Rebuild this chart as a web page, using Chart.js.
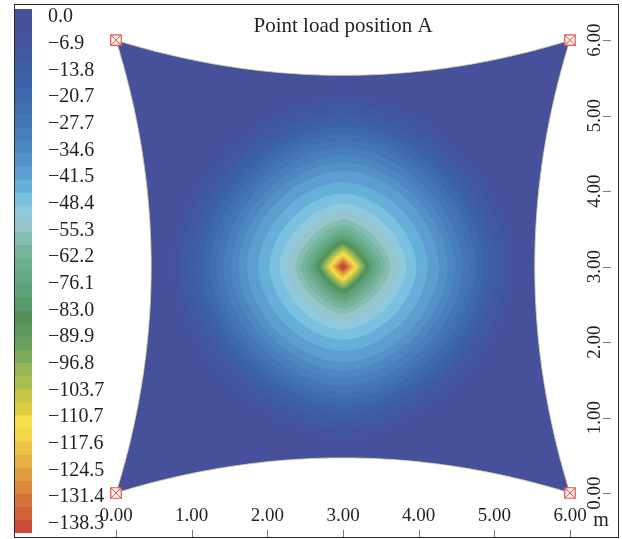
<!DOCTYPE html>
<html>
<head>
<meta charset="utf-8">
<title>Point load position A</title>
<script src="https://cdn.jsdelivr.net/npm/chart.js@4.4.1/dist/chart.umd.min.js"></script>
<style>
  html, body { margin: 0; padding: 0; background: #fff; }
  #wrap { position: relative; width: 622px; height: 539px; overflow: hidden; }
  #frame {
    position: absolute; left: 14px; top: 4px; width: 605px; height: 534px;
    box-sizing: border-box; border: 1.5px solid #2a2a2a; pointer-events: none;
  }
  canvas { position: absolute; left: 0; top: 0; }
</style>
</head>
<body>
<div id="wrap">
  <canvas id="plot" width="622" height="539"></canvas>
  <canvas id="legend" width="105" height="539"></canvas>
  <div id="frame"></div>
</div>
<script>
// deflection levels printed beside the colour bar (mm)
const levelValues = [0.0, -6.9, -13.8, -20.7, -27.7, -34.6, -41.5, -48.4, -55.3, -62.2,
  -76.1, -83.0, -89.9, -96.8, -103.7, -110.7, -117.6, -124.5, -131.4, -138.3];

// colour map, shallowest band first
const bandColors = [
  "#47509a", "#45519b", "#42549e", "#3f58a1", "#3d5da5", "#3c62a9", "#3e68ae", "#406fb2",
  "#4476b7", "#487ebc", "#4d87c2", "#5391c8", "#5b9ecf", "#66afd9", "#7ac0e0", "#90c8dc",
  "#96c6cc", "#86bdb2", "#78b59f", "#6cae8f", "#64a883", "#5ea278", "#599a6a", "#558f5a",
  "#5a985d", "#67a15d", "#7dac5c", "#95b558", "#acbe50", "#c5c64a", "#dccd44", "#f7df4c",
  "#f3d54a", "#eec347", "#e7b044", "#e09c40", "#da883c", "#d4743a", "#cf6139", "#cb4b3b",
];

// distance from the load to the outer edge of bands 1..39 (m)
const bandRadius = [2.41, 2.28, 2.16, 2.03, 1.94, 1.85, 1.76, 1.67, 1.58, 1.48,
  1.38, 1.27, 1.12, 0.97, 0.84, 0.73, 0.63, 0.56, 0.5, 0.45,
  0.41, 0.37, 0.34, 0.315, 0.295, 0.278, 0.26, 0.24, 0.225, 0.205,
  0.185, 0.165, 0.145, 0.125, 0.105, 0.09, 0.075, 0.06, 0.045];

// corner supports and cable edges of the membrane (m)
const supportX = [0, 6, 6, 0];
const supportY = [0, 0, 6, 6];
const edgeSag = 0.465;

// point load position A (m)
const loadX = 3.0;
const loadY = 3.0;

const axisTicks = [0, 1, 2, 3, 4, 5, 6];
const titleText = "Point load position A";
const unitText = "m";

const serif = "'Liberation Serif', 'DejaVu Serif', serif";
const ink = "#231f20";
const tickGrey = "#7a7a7a";

Chart.defaults.font.family = serif;
Chart.defaults.color = ink;

// contour of one band: a diamond near the load, rounding off further out
function bandOutline(r) {
  const p = 1 + 0.8 * Math.pow(Math.min(1, r), 0.8);
  const pts = [];
  for (let i = 0; i <= 160; i++) {
    const a = (i / 160) * Math.PI * 2;
    const c = Math.cos(a);
    const s = Math.sin(a);
    pts.push({
      x: loadX + r * Math.sign(c) * Math.pow(Math.abs(c), 2 / p),
      y: loadY + r * Math.sign(s) * Math.pow(Math.abs(s), 2 / p),
    });
  }
  return pts;
}

// membrane outline: cable edges sag inwards between the supports
function membraneOutline() {
  const cx = supportX.reduce((a, b) => a + b, 0) / supportX.length;
  const cy = supportY.reduce((a, b) => a + b, 0) / supportY.length;
  const pts = [];
  for (let e = 0; e < supportX.length; e++) {
    const ax = supportX[e], ay = supportY[e];
    const bx = supportX[(e + 1) % supportX.length], by = supportY[(e + 1) % supportY.length];
    const mx = (ax + bx) / 2, my = (ay + by) / 2;
    const len = Math.hypot(cx - mx, cy - my);
    const nx = (cx - mx) / len, ny = (cy - my) / len;
    for (let i = 0; i < 40; i++) {
      const t = i / 40;
      const d = 4 * edgeSag * t * (1 - t);
      pts.push({ x: ax + (bx - ax) * t + nx * d, y: ay + (by - ay) * t + ny * d });
    }
  }
  pts.push({ ...pts[0] });
  return pts;
}

const supports = supportX.map((x, i) => ({ x, y: supportY[i] }));

const datasets = [];

// supports: red box with a cross
datasets.push({
  data: supports,
  showLine: false,
  pointStyle: "crossRot",
  pointRadius: 7.4,
  pointBorderWidth: 1,
  pointBorderColor: "#e2584a",
  clip: false,
});
datasets.push({
  data: supports,
  showLine: false,
  pointStyle: "rect",
  pointRadius: 7.4,
  pointBorderWidth: 1.2,
  pointBorderColor: "#e2584a",
  pointBackgroundColor: "rgba(255,240,236,0.85)",
  clip: false,
});

// closed outlines are not sorted by x, so keep a (tiny) tension to stay off the fast path
const outlineStyle = { pointRadius: 0, tension: 0.0001, capBezierPoints: false, fill: "shape" };

// contour bands, innermost on top
for (let k = bandRadius.length; k >= 1; k--) {
  datasets.push({
    ...outlineStyle,
    data: bandOutline(bandRadius[k - 1]),
    backgroundColor: bandColors[k],
    borderWidth: 0,
  });
}

// membrane surface (zero band)
datasets.push({
  ...outlineStyle,
  data: membraneOutline(),
  backgroundColor: bandColors[0],
  borderColor: "rgba(214,214,165,0.9)",
  borderWidth: 1,
  clip: false,
});

const tickFont = { family: serif, size: 19 };
const setTicks = (scale) => { scale.ticks = axisTicks.map((v) => ({ value: v })); };

// short tick marks against the frame (outside the labels) and the unit label
const frameMarks = {
  id: "frameMarks",
  afterDraw(chart) {
    const { ctx } = chart;
    const { x, y } = chart.scales;
    ctx.save();
    ctx.strokeStyle = tickGrey;
    ctx.lineWidth = 1;
    ctx.beginPath();
    axisTicks.forEach((v) => {
      const px = Math.round(x.getPixelForValue(v)) + 0.5;
      ctx.moveTo(px, x.bottom);
      ctx.lineTo(px, x.bottom + 8);
      const py = Math.round(y.getPixelForValue(v)) + 0.5;
      ctx.moveTo(y.right - 8, py);
      ctx.lineTo(y.right, py);
    });
    ctx.stroke();
    ctx.font = "20px " + serif;
    ctx.fillStyle = ink;
    ctx.textAlign = "center";
    ctx.textBaseline = "middle";
    ctx.fillText(unitText, x.getPixelForValue(axisTicks[axisTicks.length - 1]) + 31, x.top + 28);
    ctx.restore();
  },
};

new Chart(document.getElementById("plot"), {
  type: "line",
  data: { datasets },
  plugins: [frameMarks],
  options: {
    responsive: false,
    animation: false,
    events: [],
    layout: { padding: { left: 116, right: 11, top: 0, bottom: 9 } },
    plugins: {
      legend: { display: false },
      tooltip: { enabled: false },
      title: {
        display: true,
        text: titleText,
        fullSize: false,
        color: ink,
        font: { family: serif, size: 21, weight: "normal" },
        padding: { top: 14, bottom: 1 },
      },
    },
    scales: {
      x: {
        type: "linear",
        min: 0,
        max: 6,
        position: "bottom",
        grid: { display: false },
        border: { display: false },
        afterBuildTicks: setTicks,
        ticks: {
          callback: (v) => v.toFixed(2),
          padding: 4,
          maxRotation: 0,
          autoSkip: false,
          color: ink,
          font: tickFont,
        },
        afterFit: (s) => { s.height = 37; },
      },
      y: {
        type: "linear",
        min: 0,
        max: 6,
        position: "right",
        grid: { display: false },
        border: { display: false },
        afterBuildTicks: setTicks,
        ticks: {
          callback: (v) => v.toFixed(2),
          minRotation: 90,
          maxRotation: 90,
          crossAlign: "center",
          padding: 0,
          autoSkip: false,
          color: ink,
          font: tickFont,
        },
        afterFit: (s) => { s.width = 41; },
      },
    },
  },
});

// colour bar: labels sit on evenly spaced slots, bands share the same height
const slotMin = -0.3;
const slotMax = 19.34;
const bandStep = (slotMax - slotMin) / bandColors.length;
const fmtLevel = (v) => (v === 0 ? "0.0" : "\u2212" + Math.abs(v).toFixed(1));

new Chart(document.getElementById("legend"), {
  type: "bar",
  data: {
    labels: [""],
    datasets: bandColors.map((c, k) => ({
      data: [[slotMin + k * bandStep, slotMin + (k + 1) * bandStep]],
      backgroundColor: c,
      borderWidth: 0,
      barPercentage: 1,
      categoryPercentage: 1,
      grouped: false,
    })),
  },
  options: {
    responsive: false,
    animation: false,
    events: [],
    layout: { padding: { left: 15, right: 0, top: 9, bottom: 6 } },
    plugins: { legend: { display: false }, tooltip: { enabled: false } },
    scales: {
      x: { display: false },
      y: {
        position: "right",
        min: slotMin,
        max: slotMax,
        reverse: true,
        grid: { display: false },
        border: { display: false },
        afterBuildTicks: (s) => { s.ticks = levelValues.map((v, i) => ({ value: i })); },
        ticks: {
          callback: (v) => fmtLevel(levelValues[v]),
          padding: 8,
          autoSkip: false,
          color: ink,
          font: { family: serif, size: 20 },
        },
        afterFit: (s) => {
          s.width = 73;
          s.paddingTop = 0;
          s.paddingBottom = 0;
        },
      },
    },
  },
});
</script>
</body>
</html>
